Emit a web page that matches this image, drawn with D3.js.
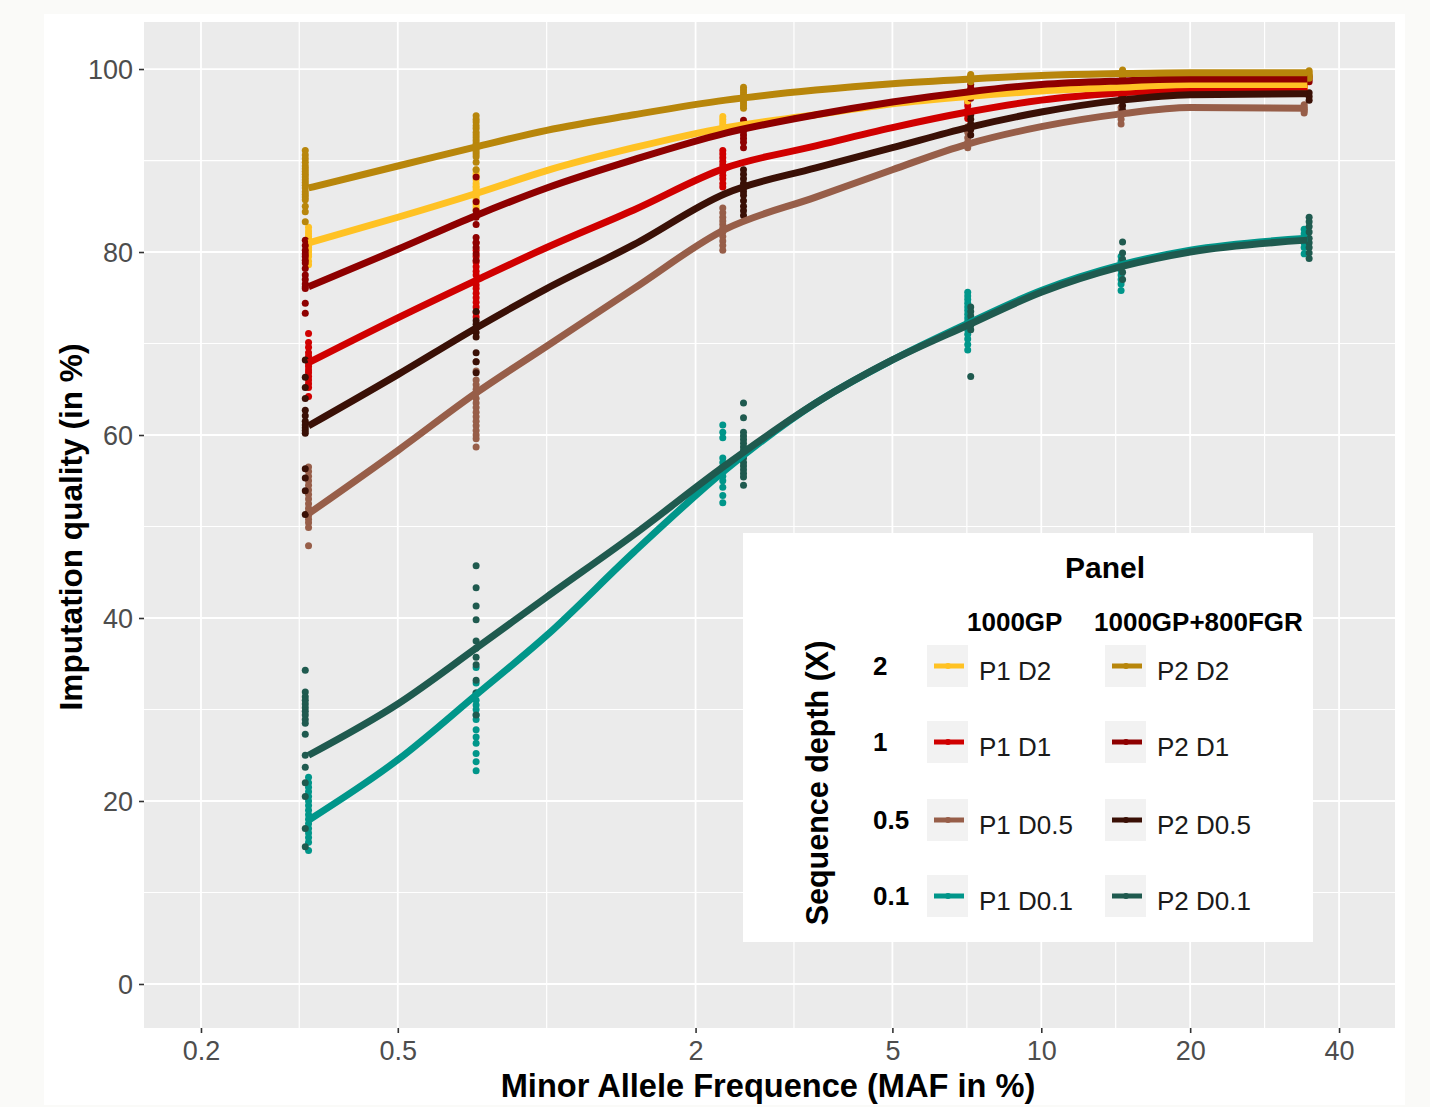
<!DOCTYPE html>
<html><head><meta charset="utf-8">
<script src="https://cdn.jsdelivr.net/npm/d3@7"></script>
<style>
body{margin:0;background:#FAFAF8;}
svg{display:block;font-family:"Liberation Sans",Arial,sans-serif;}
</style></head><body>
<svg id="chart" width="1430" height="1107"></svg>
<script>
// ---------------- data ----------------
const xTicks = [0.2, 0.5, 2, 5, 10, 20, 40];
const xMinor = [0.316, 1, 3.162, 7.071, 14.14, 28.28];
const yTicks = [0, 20, 40, 60, 80, 100];
const yMinor = [10, 30, 50, 70, 90];

const seriesNames = ["P1 D0.1","P1 D0.5","P1 D1","P1 D2","P2 D0.1","P2 D0.5","P2 D1","P2 D2"];
const seriesColors = ["#00968A","#975E49","#D00000","#FFC224","#1F5A4F","#3A1006","#8E0000","#B8860B"];

// MAF positions of the fitted curves
const mafGrid = [0.33, 0.5, 0.72, 1, 1.5, 2.3, 3.5, 5, 7.1, 10, 14.5, 20, 34.5];
const fit_P1_D01 = [17.9, 24.5, 31.6, 38.1, 47.2, 56.2, 63.5, 68.2, 72.2, 75.8, 78.6, 80.2, 81.5];
const fit_P1_D05 = [51.4, 58.3, 64.6, 69.7, 76.0, 82.5, 86.0, 89.0, 91.8, 93.7, 95.1, 95.8, 95.7];
const fit_P1_D1  = [67.9, 72.8, 76.9, 80.5, 84.6, 89.2, 91.6, 93.6, 95.3, 96.6, 97.4, 97.8, 98.0];
const fit_P1_D2  = [81.0, 83.8, 86.4, 88.9, 91.4, 93.6, 95.0, 96.2, 97.0, 97.6, 98.0, 98.3, 98.3];
const fit_P2_D01 = [25.0, 30.6, 36.7, 42.3, 49.1, 56.7, 63.5, 68.2, 72.0, 75.6, 78.4, 80.0, 81.3];
const fit_P2_D05 = [61.0, 66.6, 71.7, 76.0, 80.8, 86.4, 89.2, 91.4, 93.6, 95.3, 96.6, 97.2, 97.3];
const fit_P2_D1  = [76.2, 80.3, 84.0, 87.0, 90.1, 93.0, 95.0, 96.4, 97.5, 98.3, 98.7, 98.9, 98.9];
const fit_P2_D2  = [87.0, 89.4, 91.5, 93.3, 95.0, 96.6, 97.7, 98.4, 98.9, 99.3, 99.5, 99.6, 99.6];

// MAF bins where the individual values sit
const binsP1 = [0.33, 0.72, 2.27, 7.1, 14.5, 34];
const binsP2 = [0.325, 0.72, 2.5, 7.2, 14.6, 34.8];

const pts_P1_D01 = [[22.6,22.0,21.5,21.0,20.5,20.0,19.5,19.0,18.5,18.0,17.5,17.0,16.5,16.0,15.5,14.6],
  [34.6,32.9,31.8,31.0,30.5,30.0,29.4,28.9,27.8,27.0,26.3,25.2,24.3,23.3],
  [61.1,60.3,59.7,57.5,57.0,56.5,56.0,55.5,55.0,54.3,53.4,52.6],
  [75.6,75.2,74.8,74.4,74.0,73.6,73.2,72.8,72.4,72.0,71.5,71.0,70.5,69.9,69.3],
  [79.5,79.0,78.5,78.0,77.5,77.0,76.5,75.8],
  [82.5,82.0,81.5,81.0,80.5,79.8]];
const pts_P1_D05 = [[56.5,56.0,55.5,55.0,54.5,54.0,53.5,53.0,52.5,52.0,51.6,51.2,50.8,50.4,49.9,47.9],
  [68.0,67.0,66.0,65.5,65.0,64.6,64.0,63.5,63.0,62.5,62.0,61.5,61.0,60.5,60.0,59.6,58.7],
  [84.8,84.3,83.8,83.4,83.0,82.6,82.2,81.7,81.2,80.7,80.2],
  [93.7,93.1,92.5,92.0,91.4],
  [95.8,95.4,95.0,94.5,94.0],
  [96.1,95.8,95.6,95.4,95.2]];
const pts_P1_D1 = [[71.1,70.1,69.6,69.0,68.6,68.2,67.8,67.5,67.1,66.8,66.4,66.0,65.6,65.2,64.2],
  [81.0,80.2,79.5,78.9,78.4,77.9,77.5,76.9,76.4,76.0,75.5,75.0,74.5,74.0,73.4,72.9],
  [91.1,90.7,90.3,89.9,89.5,89.1,88.8,88.4,88.0,87.5,87.1],
  [96.4,96.0,95.5,95.0,94.6],
  [97.8,97.5,97.2],
  [98.2,97.8,97.5]];
const pts_P1_D2 = [[82.7,82.3,82.0,81.7,81.5,81.2,81.0,80.7,80.5,80.2,80.0,79.7,79.5,79.0,78.6],
  [89.0,88.6,88.3,87.9,87.5,87.2,87.0,86.7,86.4,86.1,85.8,85.5,85.2,84.9,84.6],
  [94.8,94.5,94.2,93.9,93.6,93.3,93.1],
  [97.5,97.2,97.0,96.7,96.5],
  [98.3,98.0,97.8],
  [98.6,98.3,98.0,97.7]];
const pts_P2_D01 = [[34.3,31.9,31.4,31.0,30.6,30.2,29.8,29.4,28.9,28.5,27.3,25.0,23.7,22.0,20.5,17.0,15.0],
  [45.7,43.3,41.3,39.8,37.5,36.7,35.7,34.9,33.2,31.8,29.4],
  [63.5,61.9,60.3,59.9,59.5,59.1,58.7,58.3,58.0,57.5,57.0,56.6,56.2,55.8,55.4,54.5],
  [74.0,73.5,73.0,72.5,72.0,71.5,66.4],
  [81.1,79.9,79.2,78.5,77.8,77.0],
  [83.8,83.3,82.8,82.2,81.5,81.0,80.5,79.9,79.3]];
const pts_P2_D05 = [[68.2,66.3,65.2,64.0,62.7,62.1,61.5,61.1,60.8,60.5,60.2,56.3,55.3,53.9,51.3],
  [73.5,72.5,72.1,71.7,71.2,70.7,69.0,68.0,66.8],
  [89.0,88.5,88.0,87.5,87.0,86.6,86.2,85.6,85.0,84.5,84.0],
  [95.0,94.5,94.0,93.4,92.8],
  [97.5,97.0,96.5,96.0,95.5],
  [97.4,97.0,96.6]];
const pts_P2_D1 = [[81.3,80.7,80.2,79.8,79.5,79.1,78.8,78.2,77.5,77.0,76.5,76.2,76.0,74.4,73.3],
  [88.2,85.5,84.5,83.8,83.0,81.6,81.0,80.5,79.8,79.1],
  [94.4,94.0,93.6,93.2,92.8,92.4,92.0,91.4],
  [98.3,97.9,97.5,97.1,96.8],
  [99.0,98.7,98.5],
  [99.2,98.9,98.6]];
const pts_P2_D2 = [[91.1,90.6,90.2,89.8,89.4,89.1,88.8,88.5,88.2,87.9,87.6,87.3,87.0,86.6,86.3,86.0,85.7,85.0,84.4,83.3],
  [94.9,94.5,94.2,93.8,93.5,93.1,92.8,92.5,92.2,91.9,91.6,91.3,91.0,90.7,90.4,89.8,89.0],
  [98.0,97.7,97.4,97.1,96.9,96.6,96.3,96.0,95.7],
  [99.4,99.2,99.0,98.8,98.6],
  [99.9,99.7,99.5,99.3,99.1],
  [99.8,99.6,99.4,99.2,99.0]];

const legendDepths = ["2","1","0.5","0.1"];
const legendCols = ["1000GP","1000GP+800FGR"];
const legendGrid = [["P1 D2","P2 D2"],["P1 D1","P2 D1"],["P1 D0.5","P2 D0.5"],["P1 D0.1","P2 D0.1"]];

const fits = [fit_P1_D01, fit_P1_D05, fit_P1_D1, fit_P1_D2, fit_P2_D01, fit_P2_D05, fit_P2_D1, fit_P2_D2];
const pts  = [pts_P1_D01, pts_P1_D05, pts_P1_D1, pts_P1_D2, pts_P2_D01, pts_P2_D05, pts_P2_D1, pts_P2_D2];

// ---------------- drawing ----------------
const svg = d3.select("#chart");
const P = {l:144, r:1395, t:22, b:1028};
const x = d3.scaleLog().domain([0.1534, 51.9]).range([P.l, P.r]);
const y = d3.scaleLinear().domain([-4.81, 105.14]).range([P.b, P.t]);
const color = d3.scaleOrdinal().domain(seriesNames).range(seriesColors);

svg.append("rect").attr("width",1430).attr("height",1107).attr("fill","#FAFAF8");
svg.append("rect").attr("x",44).attr("y",14).attr("width",1361).attr("height",1091).attr("fill","#FFFFFF");
svg.append("rect").attr("x",P.l).attr("y",P.t).attr("width",P.r-P.l).attr("height",P.b-P.t).attr("fill","#EBEBEB");

const grid = svg.append("g");
grid.selectAll(".xm").data(xMinor).join("line")
  .attr("x1",d=>x(d)).attr("x2",d=>x(d)).attr("y1",P.t).attr("y2",P.b)
  .attr("stroke","#fff").attr("stroke-width",1.2);
grid.selectAll(".ym").data(yMinor).join("line")
  .attr("y1",d=>y(d)).attr("y2",d=>y(d)).attr("x1",P.l).attr("x2",P.r)
  .attr("stroke","#fff").attr("stroke-width",1.2);
grid.selectAll(".xM").data(xTicks).join("line")
  .attr("x1",d=>x(d)).attr("x2",d=>x(d)).attr("y1",P.t).attr("y2",P.b)
  .attr("stroke","#fff").attr("stroke-width",1.8);
grid.selectAll(".yM").data(yTicks).join("line")
  .attr("y1",d=>y(d)).attr("y2",d=>y(d)).attr("x1",P.l).attr("x2",P.r)
  .attr("stroke","#fff").attr("stroke-width",1.8);

// points
const pointLayer = svg.append("g");
seriesNames.forEach((name,i)=>{
  const bins = name.startsWith("P1") ? binsP1 : binsP2;
  const flat = [];
  pts[i].forEach((vals,b)=>vals.forEach(v=>flat.push([bins[b], v])));
  pointLayer.append("g").selectAll("circle").data(flat).join("circle")
    .attr("cx",d=>x(d[0])).attr("cy",d=>y(d[1])).attr("r",3.5)
    .attr("fill",color(name));
});

// fitted lines
const line = d3.line().x(d=>x(d[0])).y(d=>y(d[1])).curve(d3.curveMonotoneX);
const lineLayer = svg.append("g");
seriesNames.forEach((name,i)=>{
  lineLayer.append("path").datum(mafGrid.map((m,k)=>[m, fits[i][k]]))
    .attr("d",line).attr("fill","none").attr("stroke",color(name))
    .attr("stroke-width",7).attr("stroke-linejoin","round").attr("stroke-linecap","butt");
});

// axes
const xAxis = svg.append("g").attr("transform",`translate(0,${P.b})`)
  .call(d3.axisBottom(x).tickValues(xTicks).tickFormat(d=>String(d)).tickSize(5).tickPadding(8));
const yAxis = svg.append("g").attr("transform",`translate(${P.l},0)`)
  .call(d3.axisLeft(y).tickValues(yTicks).tickFormat(d=>String(d)).tickSize(5).tickPadding(6));
[xAxis,yAxis].forEach(a=>{
  a.select(".domain").remove();
  a.selectAll(".tick line").attr("stroke","#333").attr("stroke-width",1.6);
  a.selectAll(".tick text").attr("fill","#4D4D4D").attr("font-size",27)
    .attr("font-family","'Liberation Sans',Arial,sans-serif");
});
xAxis.selectAll(".tick text").attr("dy",null).attr("y",null).attr("transform","translate(0,32)");
yAxis.selectAll(".tick text").attr("dy","0.36em");

svg.append("text").attr("x",768).attr("y",1097).attr("text-anchor","middle")
  .attr("font-size",32.6).attr("font-weight","bold").attr("fill","#000")
  .text("Minor Allele Frequence (MAF in %)");
svg.append("text").attr("transform","translate(82,527) rotate(-90)").attr("text-anchor","middle")
  .attr("font-size",31.6).attr("font-weight","bold").attr("fill","#000")
  .text("Imputation quality (in %)");

// legend
const lg = svg.append("g");
lg.append("rect").attr("x",743).attr("y",533).attr("width",570).attr("height",409).attr("fill","#fff");
lg.append("text").attr("x",1105).attr("y",578).attr("text-anchor","middle")
  .attr("font-size",30).attr("font-weight","bold").text("Panel");
const colX = [927, 1105];
const labX = [979, 1157];
const headX = [967, 1094];
legendCols.forEach((c,j)=>{
  lg.append("text").attr("x",headX[j]).attr("y",631).attr("font-size",26).attr("font-weight","bold").text(c);
});
lg.append("text").attr("transform","translate(828,783) rotate(-90)").attr("text-anchor","middle")
  .attr("font-size",30.5).attr("font-weight","bold").text("Sequence depth (X)");
const rowY = [666, 742, 820, 896];
legendDepths.forEach((d,r)=>{
  lg.append("text").attr("x",873).attr("y",rowY[r]+9).attr("font-size",26).attr("font-weight","bold").text(d);
  legendGrid[r].forEach((name,j)=>{
    const g = lg.append("g");
    g.append("rect").attr("x",colX[j]).attr("y",rowY[r]-21).attr("width",41).attr("height",42).attr("fill","#F2F2F2");
    g.append("line").attr("x1",colX[j]+7).attr("x2",colX[j]+37).attr("y1",rowY[r]).attr("y2",rowY[r])
      .attr("stroke",color(name)).attr("stroke-width",5);
    g.append("circle").attr("cx",colX[j]+21).attr("cy",rowY[r]).attr("r",3).attr("fill",color(name));
    lg.append("text").attr("x",labX[j]).attr("y",rowY[r]+14).attr("font-size",26).attr("fill","#1A1A1A").text(name);
  });
});
</script>
</body></html>
